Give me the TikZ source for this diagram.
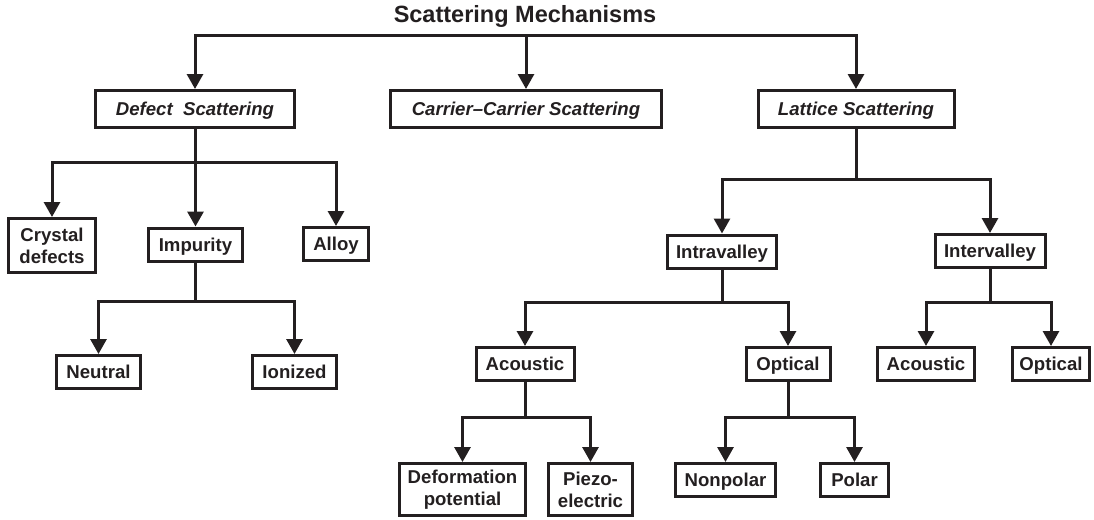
\documentclass[tikz,border=0pt]{standalone}
\usepackage{fontspec}
\setmainfont{Liberation Sans}
\usetikzlibrary{arrows.meta}
\definecolor{ink}{RGB}{35,31,32}

\begin{document}
\begin{tikzpicture}[x=1pt,y=-1pt,line width=3pt,color=ink,
    box/.style={draw,rectangle,inner sep=0pt,minimum height=33pt,align=center,
      font=\bfseries\fontsize{18.6}{21.7}\selectfont},
    one/.style={box,text height=13.3pt,text depth=0pt},
    head/.style={one,minimum height=37pt,font=\bfseries\itshape\fontsize{18.6}{21.7}\selectfont},
    arr/.style={-{Triangle[width=16pt,length=15pt]}}]
  \useasboundingbox (0,0) rectangle (1094,519);
  \node [font=\bfseries\fontsize{23.5}{26}\selectfont] (title) at (525,16) {Scattering Mechanisms};

  \node [head,minimum width=199pt] (defect) at (195,109) {Defect~~Scattering};
  \node [head,minimum width=271pt] (carrier) at (526,109) {Carrier--Carrier Scattering};
  \node [head,minimum width=196pt] (lattice) at (856,109) {Lattice Scattering};

  \node [box,minimum width=87pt,minimum height=54pt] (crystal) at (52,245.5) {Crystal\\defects};
  \node [one,minimum width=94pt] (impurity) at (195.5,244.5) {Impurity};
  \node [one,minimum width=65pt] (alloy) at (336,244) {Alloy};
  \node [one,minimum width=84pt] (neutral) at (98.5,372) {Neutral};
  \node [one,minimum width=84pt] (ionized) at (294.5,372) {Ionized};

  \node [one,minimum width=109pt] (intra) at (722,251.5) {Intravalley};
  \node [one,minimum width=110pt] (inter) at (990,251) {Intervalley};
  \node [one,minimum width=98pt] (acoustic) at (525,364) {Acoustic};
  \node [one,minimum width=84pt] (optical) at (788,364) {Optical};
  \node [one,minimum width=97pt] (acoustic2) at (926,364) {Acoustic};
  \node [one,minimum width=77pt] (optical2) at (1051,364) {Optical};
  \node [box,minimum width=126pt,minimum height=52pt] (deform) at (462.5,489.5) {Deformation\\potential};
  \node [box,minimum width=84pt,minimum height=52pt] (piezo) at (590.5,489.5) {Piezo-\\electric};
  \node [one,minimum width=100pt] (nonpolar) at (725.5,480) {Nonpolar};
  \node [one,minimum width=68pt] (polar) at (854.5,480) {Polar};

  % fork points
  \coordinate (top) at (526,36);
  \coordinate (dfork) at (195,162);
  \coordinate (ifork) at (195.5,301);
  \coordinate (lfork) at (856,179);
  \coordinate (rfork) at (722,302);
  \coordinate (efork) at (990,302);
  \coordinate (afork) at (525,417);
  \coordinate (ofork) at (788,417);

  \draw [arr] (top) -| (defect);
  \draw [arr] (top) -- (carrier);
  \draw [arr] (top) -| (lattice);

  \draw (defect) -- (dfork);
  \draw [arr] (dfork) -| (crystal);
  \draw [arr] (dfork) -| (impurity);
  \draw [arr] (dfork) -| (alloy);
  \draw (impurity) -- (ifork);
  \draw [arr] (ifork) -| (neutral);
  \draw [arr] (ifork) -| (ionized);

  \draw (lattice) -- (lfork);
  \draw [arr] (lfork) -| (intra);
  \draw [arr] (lfork) -| (inter);
  \draw (intra) -- (rfork);
  \draw [arr] (rfork) -| (acoustic);
  \draw [arr] (rfork) -| (optical);
  \draw (inter) -- (efork);
  \draw [arr] (efork) -| (acoustic2);
  \draw [arr] (efork) -| (optical2);
  \draw (acoustic) -- (afork);
  \draw [arr] (afork) -| (deform);
  \draw [arr] (afork) -| (piezo);
  \draw (optical) -- (ofork);
  \draw [arr] (ofork) -| (nonpolar);
  \draw [arr] (ofork) -| (polar);
\end{tikzpicture}
\end{document}
